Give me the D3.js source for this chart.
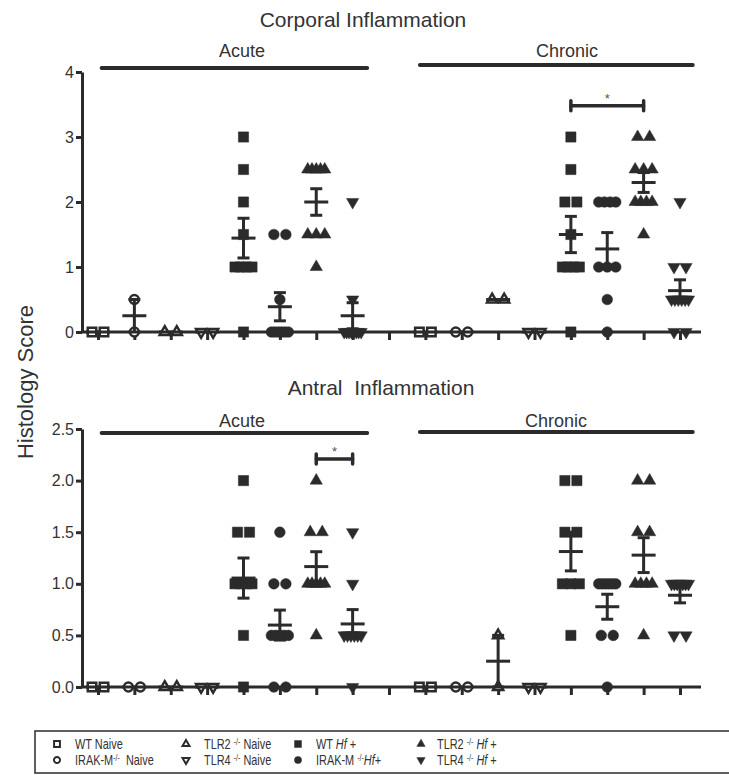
<!DOCTYPE html>
<html>
<head>
<meta charset="utf-8">
<script src="https://cdn.jsdelivr.net/npm/d3@7"></script>
<style>
  body { margin: 0; background: #fff; }
  svg { display: block; font-family: "Liberation Sans", Arial, sans-serif; }
</style>
</head>
<body>
<div id="chart"></div>
<script>
"use strict";

// groups, in the order they appear in each phase (and in the legend)
const groupShapes = ["square", "circle", "triangle", "triangleDown", "square", "circle", "triangle", "triangleDown"];
const groupFilled = [false, false, false, false, true, true, true, true];

// histology scores per animal, one array per group
const corporalAcute = [
  [0, 0], [0.5, 0], [0, 0], [0, 0],
  [3, 2.5, 2, 1.5, 1, 1, 1, 1, 0],
  [1.5, 1.5, 0.5, 0, 0, 0, 0, 0, 0],
  [2.5, 2.5, 2.5, 2.5, 2.5, 1.5, 1.5, 1.5, 1],
  [2, 0.5, 0, 0, 0, 0, 0, 0, 0, 0]
];
const corporalChronic = [
  [0, 0], [0, 0], [0.5, 0.5], [0, 0],
  [3, 2.5, 2, 2, 1.5, 1, 1, 1, 1, 0],
  [2, 2, 2, 2, 1, 1, 1, 0.5, 0],
  [3, 3, 2.5, 2.5, 2.5, 2, 2, 2, 2, 1.5],
  [2, 1, 1, 0.5, 0.5, 0.5, 0.5, 0.5, 0.5, 0, 0]
];
const antralAcute = [
  [0, 0], [0, 0], [0, 0], [0, 0],
  [2, 1.5, 1.5, 1, 1, 1, 1, 0.5, 0],
  [1.5, 1, 1, 0.5, 0.5, 0.5, 0.5, 0.5, 0, 0],
  [2, 1.5, 1.5, 1, 1, 1, 1, 1, 0.5],
  [1.5, 1, 0.5, 0.5, 0.5, 0.5, 0.5, 0.5, 0]
];
const antralChronic = [
  [0, 0], [0, 0], [0.5, 0], [0, 0],
  [2, 2, 1.5, 1.5, 1, 1, 1, 0.5],
  [1, 1, 1, 1, 1, 1, 0.5, 0.5, 0],
  [2, 2, 1.5, 1.5, 1, 1, 1, 1, 0.5],
  [1, 1, 1, 1, 1, 1, 1, 0.5, 0.5]
];

const panelTitles = ["Corporal Inflammation", "Antral\u00a0\u00a0Inflammation"];
const phaseNames = ["Acute", "Chronic"];
const yMaxes = [4, 2.5];
const corporalTicks = [0, 1, 2, 3, 4];
const antralTicks = [0, 0.5, 1, 1.5, 2, 2.5];

// significance brackets: [from slot, to slot, y value]
const corporalSig = [[13, 15, 3.48]];
const antralSig = [[6, 7, 2.21]];

// legend labels, parts: [text, style] with style "sup" or "it"
const legendLabels = [
  [["WT Naive"]],
  [["IRAK-M"], ["-/-", "sup"], ["\u00a0 Naive"]],
  [["TLR2 "], ["-/-", "sup"], [" Naive"]],
  [["TLR4 "], ["-/-", "sup"], [" Naive"]],
  [["WT "], ["Hf", "it"], [" +"]],
  [["IRAK-M "], ["-/-", "sup"], ["Hf", "it"], ["+"]],
  [["TLR2 "], ["-/-", "sup"], [" "], ["Hf", "it"], [" +"]],
  [["TLR4 "], ["-/-", "sup"], [" "], ["Hf", "it"], [" +"]]
];

const width = 729;
const height = 775;
const ink = "#2b2b2b";
const textInk = "#333";

const svg = d3.select("#chart").append("svg")
  .attr("width", width)
  .attr("height", height);

// 17 slots: 8 acute, one empty, 8 chronic
const x = d3.scaleLinear().domain([0, 16]).range([98, 680]);

const panels = [
  { title: panelTitles[0], titleY: 27, titleX: 363, top: 72, bottom: 332, max: yMaxes[0], ticks: corporalTicks, fmt: d3.format("d"),
    data: [corporalAcute, corporalChronic], phaseY: [68, 65], phaseTextY: 57, phaseTextX: [242, 567], sig: corporalSig },
  { title: panelTitles[1], titleY: 395, titleX: 381, top: 429, bottom: 687, max: yMaxes[1], ticks: antralTicks, fmt: d3.format(".1f"),
    data: [antralAcute, antralChronic], phaseY: [433, 432], phaseTextY: 427, phaseTextX: [242, 556], sig: antralSig }
];

const phaseSpans = [[0.1, 7.4], [8.85, 16.35]];

function symbolPath(shape, size) {
  if (shape === "square") return d3.symbol(d3.symbolSquare, size)();
  if (shape === "circle") return d3.symbol(d3.symbolCircle, size * 0.85)();
  return d3.symbol(d3.symbolTriangle, size * 0.62)();
}

function spread(vals) {
  const out = [];
  const byValue = d3.group(vals, v => v);
  byValue.forEach(function(list, v) {
    const k = list.length;
    const span = k > 1 ? Math.min(12 * (k - 1), 17) : 0;
    list.forEach(function(_, i) {
      out.push({ v: v, dx: k > 1 ? -span / 2 + i * span / (k - 1) : 0 });
    });
  });
  return out;
}

panels.forEach(function(p) {
  const y = d3.scaleLinear().domain([0, p.max]).range([p.bottom, p.top]);
  const g = svg.append("g");

  g.append("text")
    .attr("x", p.titleX).attr("y", p.titleY)
    .attr("text-anchor", "middle")
    .style("font-size", "21px")
    .style("fill", textInk)
    .text(p.title);

  // phase bars
  phaseNames.forEach(function(name, i) {
    const x0 = x(phaseSpans[i][0]), x1 = x(phaseSpans[i][1]);
    g.append("line")
      .attr("x1", x0).attr("x2", x1)
      .attr("y1", p.phaseY[i]).attr("y2", p.phaseY[i])
      .attr("stroke", ink).attr("stroke-width", 4).attr("stroke-linecap", "round");
    g.append("text")
      .attr("x", p.phaseTextX[i]).attr("y", p.phaseTextY)
      .attr("text-anchor", "middle")
      .style("font-size", "18px")
      .style("fill", textInk)
      .text(name);
  });

  // y axis
  const yAxis = g.append("g")
    .attr("transform", "translate(82,0)")
    .call(d3.axisLeft(y).tickValues(p.ticks).tickFormat(p.fmt).tickSize(6).tickSizeOuter(0).tickPadding(2));
  yAxis.select(".domain").attr("stroke", ink).attr("stroke-width", 3);
  yAxis.selectAll(".tick line").attr("stroke", ink).attr("stroke-width", 3);
  yAxis.selectAll(".tick text")
    .style("font-size", "16px")
    .style("font-family", "Liberation Sans, Arial, sans-serif")
    .attr("fill", textInk);

  // x axis, ticks only at slots
  g.append("line")
    .attr("x1", 82).attr("x2", 701)
    .attr("y1", y(0)).attr("y2", y(0))
    .attr("stroke", ink).attr("stroke-width", 3);
  const xAxis = g.append("g")
    .attr("transform", "translate(0," + y(0) + ")")
    .call(d3.axisBottom(x).tickValues(d3.range(17)).tickFormat("").tickSize(8).tickSizeOuter(0));
  xAxis.select(".domain").remove();
  xAxis.selectAll(".tick line").attr("stroke", ink).attr("stroke-width", 3);

  // points
  const groups = [];
  p.data.forEach(function(phase, pi) {
    phase.forEach(function(vals, gi) {
      groups.push({ slot: pi * 9 + gi, gi: gi, vals: vals });
    });
  });

  groups.forEach(function(grp) {
    const cx = x(grp.slot);
    const filled = groupFilled[grp.gi];
    const shape = groupShapes[grp.gi];
    g.append("g").selectAll("path")
      .data(spread(grp.vals))
      .join("path")
      .attr("d", symbolPath(shape, filled ? 105 : 72))
      .attr("transform", function(d) {
        return "translate(" + (cx + d.dx) + "," + y(d.v) + ")" + (shape === "triangleDown" ? " rotate(180)" : "");
      })
      .attr("fill", filled ? ink : "#fff")
      .attr("stroke", ink)
      .attr("stroke-width", filled ? 0.5 : 2.5);
  });

  // mean and SEM
  groups.forEach(function(grp) {
    const cx = x(grp.slot);
    const m = d3.mean(grp.vals);
    const sd = d3.deviation(grp.vals) || 0;
    const sem = sd / Math.sqrt(grp.vals.length);
    const lines = [[cx - 12, cx + 12, y(m), y(m)]];
    if (sem > 0) {
      lines.push([cx, cx, y(m - sem), y(m + sem)]);
      lines.push([cx - 6, cx + 6, y(m + sem), y(m + sem)]);
      lines.push([cx - 6, cx + 6, y(m - sem), y(m - sem)]);
    }
    g.append("g").selectAll("line")
      .data(lines)
      .join("line")
      .attr("x1", d => d[0]).attr("x2", d => d[1])
      .attr("y1", d => d[2]).attr("y2", d => d[3])
      .attr("stroke", ink).attr("stroke-width", 3);
  });

  // significance brackets
  p.sig.forEach(function(s) {
    const x0 = x(s[0]), x1 = x(s[1]), yy = y(s[2]);
    const b = g.append("g")
      .attr("stroke", ink).attr("stroke-width", 3.5).attr("stroke-linecap", "round");
    b.append("line").attr("x1", x0).attr("x2", x1).attr("y1", yy).attr("y2", yy);
    b.append("line").attr("x1", x0).attr("x2", x0).attr("y1", yy - 5).attr("y2", yy + 5);
    b.append("line").attr("x1", x1).attr("x2", x1).attr("y1", yy - 5).attr("y2", yy + 5);
    g.append("text")
      .attr("x", (x0 + x1) / 2).attr("y", yy - 3)
      .attr("text-anchor", "middle")
      .style("font-size", "13px")
      .style("fill", "#555")
      .text("*");
  });
});

// y axis title
svg.append("text")
  .attr("transform", "translate(33,382) rotate(-90)")
  .attr("text-anchor", "middle")
  .style("font-size", "22px")
  .style("fill", textInk)
  .text("Histology Score");

// legend
const legend = svg.append("g");
legend.append("rect")
  .attr("x", 35).attr("y", 731)
  .attr("width", 720).attr("height", 42)
  .attr("fill", "none")
  .attr("stroke", ink).attr("stroke-width", 1.5);

const legendMarkX = [57, 186, 298, 421];
const legendTextX = [75, 204, 316, 437];

legendLabels.forEach(function(parts, i) {
  const col = Math.floor(i / 2), row = i % 2;
  const my = 744 + row * 16;
  const shape = groupShapes[i];
  const filled = groupFilled[i];
  legend.append("path")
    .attr("d", symbolPath(shape, filled ? 48 : 34))
    .attr("transform", "translate(" + legendMarkX[col] + "," + my + ")" + (shape === "triangleDown" ? " rotate(180)" : ""))
    .attr("fill", filled ? ink : "#fff")
    .attr("stroke", ink)
    .attr("stroke-width", filled ? 0.5 : 2);
  const t = legend.append("text")
    .attr("transform", "translate(" + legendTextX[col] + "," + (my + 5) + ") scale(0.78,1)")
    .style("font-size", "14px")
    .style("fill", textInk);
  parts.forEach(function(part) {
    const s = t.append("tspan").text(part[0]);
    if (part[1] === "sup") s.attr("baseline-shift", "super").style("font-size", "9px");
    if (part[1] === "it") s.style("font-style", "italic");
  });
});
</script>
</body>
</html>
